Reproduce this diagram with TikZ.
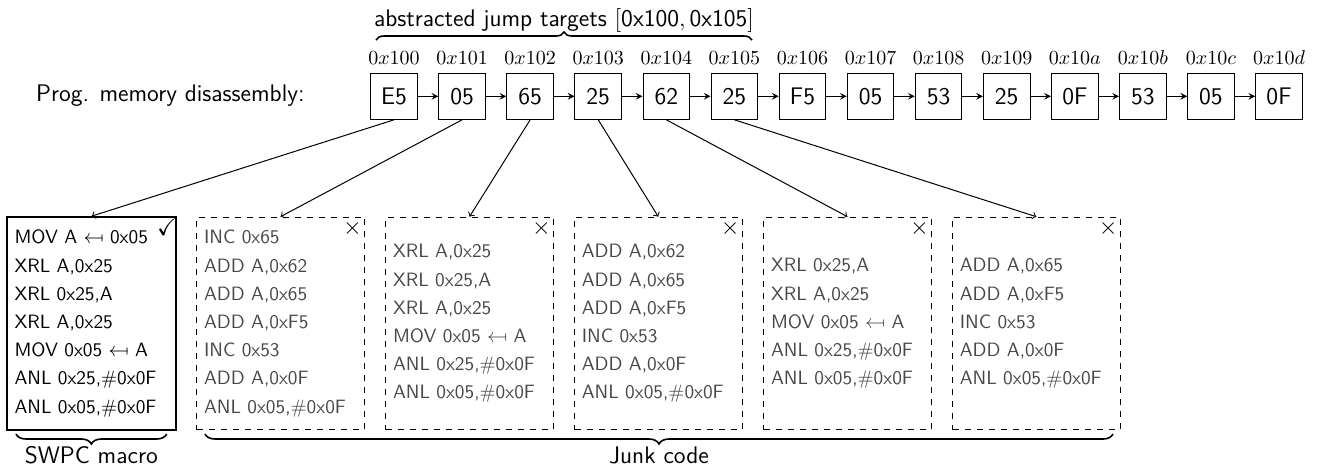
\documentclass[tikz,border=0pt]{standalone}
\usepackage{amsmath,amssymb}
\usetikzlibrary{decorations.pathreplacing}
\newcommand{\mfrom}{\mathrel{\leftarrow\mkern-2.7mu\mapstochar\mkern2.7mu}}
\begin{document}
\begin{tikzpicture}[x=0.5pt,y=-0.5pt, font=\sffamily,
  membox/.style={draw, line width=0.5pt, minimum width=23.3pt, minimum height=23pt, inner sep=0pt, font=\fontsize{12}{14}\selectfont\sffamily},
  addr/.style={inner sep=0pt, anchor=base, font=\fontsize{10.4}{12}\selectfont},
  swpcbox/.style={draw, line width=1pt, minimum width=84.2pt, minimum height=106.3pt, inner sep=0pt},
  junkbox/.style={draw, dashed, line width=0.5pt, minimum width=83.8pt, minimum height=106.3pt, inner sep=0pt},
  code/.style={anchor=west, align=left, inner sep=0pt, font=\fontsize{9.65}{14.1}\selectfont\sffamily},
  junkcode/.style={code, text=black!72},
  lbl/.style={inner sep=0pt, font=\fontsize{12}{14}\selectfont\sffamily},
  symb/.style={inner sep=0pt, font=\fontsize{12}{12}\selectfont},
  bracedec/.style={decorate, decoration={brace, amplitude=4pt}, line width=0.8pt},
  bracedecb/.style={decorate, decoration={brace, mirror, amplitude=5pt}, line width=0.8pt},
  link/.style={-stealth, line width=0.5pt},
  jump/.style={->, line width=0.5pt}
]
\useasboundingbox (0,0) rectangle (1324,468);

% program memory row
\foreach \v [count=\i from 0] in {E5,05,65,25,62,25,F5,05,53,25,0F,53,05,0F}
  \node[membox] (b\i) at ({394+68.08*\i},96.3) {\v};
\foreach \a [count=\i from 0] in {100,101,102,103,104,105,106,107,108,109,10a,10b,10c,10d}
  \node[addr] (a\i) at ({394+68.08*\i},64) {$0x\a$};
\foreach \i [evaluate=\i as \j using int(\i+1)] in {0,...,12}
  \draw[link] (b\i.east) -- (b\j.west);

\node[lbl, anchor=base east] (prog) at (305,101.7) {Prog. memory disassembly:};

% top brace
\coordinate (tl) at (376,40);
\coordinate (tr) at (752,40);
\draw[bracedec] (tl) -- (tr);
\node[lbl, anchor=base] (title) at (564,26) {abstracted jump targets $[\text{0x100}, \text{0x105}]$};

% lower boxes
\node[swpcbox] (swpc) at (91.5,323.5) {};
\node[junkbox] (j1) at (280.5,323.5) {};
\node[junkbox] (j2) at (469.5,323.5) {};
\node[junkbox] (j3) at (658.3,323.5) {};
\node[junkbox] (j4) at (847.5,323.5) {};
\node[junkbox] (j5) at (1036.3,323.5) {};

\node[code] (swpct) at ([xshift=3.9pt]swpc.west) {MOV A $\mfrom$ 0x05\\XRL A,0x25\\XRL 0x25,A\\XRL A,0x25\\MOV 0x05 $\mfrom$ A\\ANL 0x25,\#0x0F\\ANL 0x05,\#0x0F};
\node[junkcode] (j1t) at ([xshift=3.7pt]j1.west) {INC 0x65\\ADD A,0x62\\ADD A,0x65\\ADD A,0xF5\\INC 0x53\\ADD A,0x0F\\ANL 0x05,\#0x0F};
\node[junkcode] (j2t) at ([xshift=3.7pt]j2.west) {XRL A,0x25\\XRL 0x25,A\\XRL A,0x25\\MOV 0x05 $\mfrom$ A\\ANL 0x25,\#0x0F\\ANL 0x05,\#0x0F};
\node[junkcode] (j3t) at ([xshift=3.7pt]j3.west) {ADD A,0x62\\ADD A,0x65\\ADD A,0xF5\\INC 0x53\\ADD A,0x0F\\ANL 0x05,\#0x0F};
\node[junkcode] (j4t) at ([xshift=3.7pt]j4.west) {XRL 0x25,A\\XRL A,0x25\\MOV 0x05 $\mfrom$ A\\ANL 0x25,\#0x0F\\ANL 0x05,\#0x0F};
\node[junkcode] (j5t) at ([xshift=3.7pt]j5.west) {ADD A,0x65\\ADD A,0xF5\\INC 0x53\\ADD A,0x0F\\ANL 0x05,\#0x0F};

\node[symb] (ok) at ([xshift=-4.8pt,yshift=-5.4pt]swpc.north east) {$\checkmark$};
\foreach \k in {1,...,5}
  \node[symb] (x\k) at ([xshift=-6.2pt,yshift=-6.1pt]j\k.north east) {$\times$};

% jump arrows
\draw[jump] (b0.south) -- (swpc.north);
\draw[jump] (b1.south) -- (j1.north);
\draw[jump] (b2.south) -- (j2.north);
\draw[jump] (b3.south) -- (j3.north);
\draw[jump] (b4.south) -- (j4.north);
\draw[jump] (b5.south) -- (j5.north);

% bottom braces
\coordinate (sl) at (16,434);
\coordinate (sr) at (166.7,434);
\draw[bracedecb] (sl) -- (sr);
\node[lbl, anchor=base] (swpcl) at (91.3,463) {SWPC macro};
\coordinate (jl) at (205,434);
\coordinate (jr) at (1113,434);
\draw[bracedecb] (jl) -- (jr);
\node[lbl, anchor=base] (junkl) at (659,463) {Junk code};
\end{tikzpicture}
\end{document}
